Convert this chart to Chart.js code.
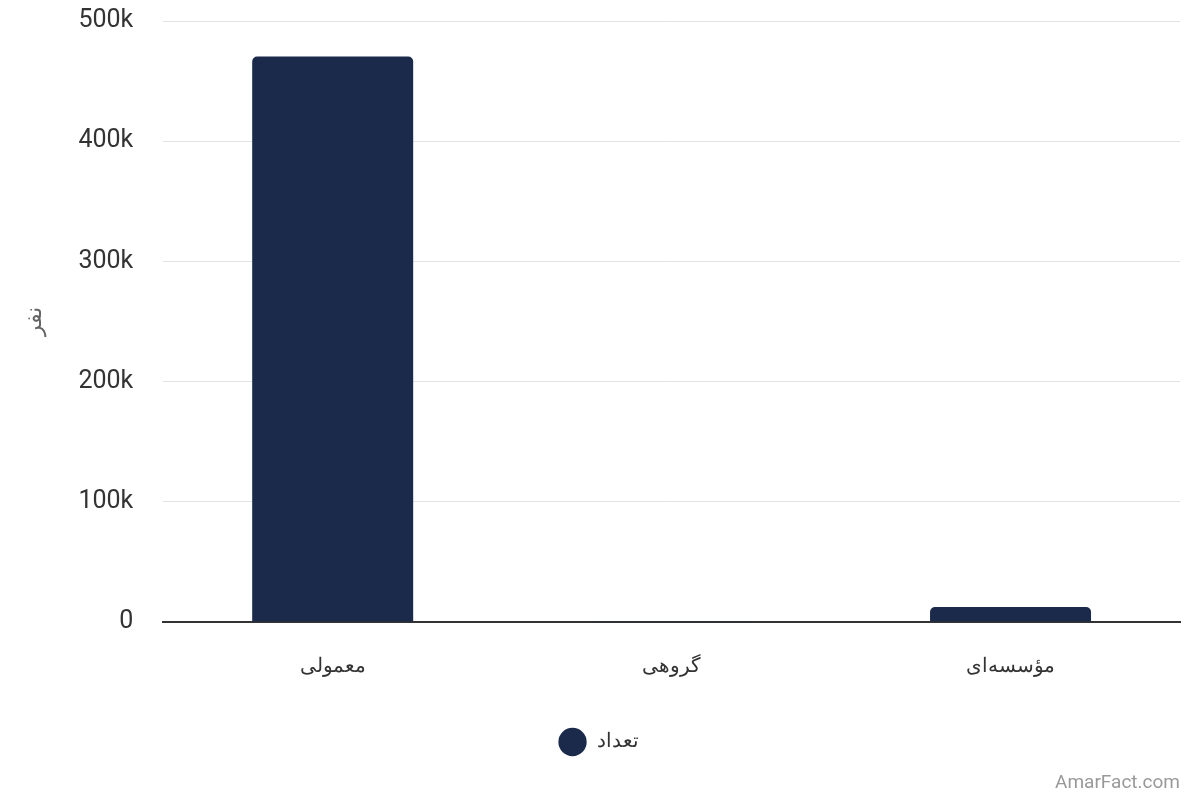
<!DOCTYPE html>
<html>
<head>
<meta charset="utf-8">
<script src="https://cdn.jsdelivr.net/npm/chart.js@4"></script>
<style>
  html, body { margin: 0; padding: 0; background: #fff; overflow: hidden; }
  #wrap { position: relative; width: 1200px; height: 800px; overflow: hidden; }
  #barChart { position: absolute; left: 0; top: -24px; }
  #mark { position: absolute; right: 20px; bottom: 7px; font-family: Roboto, sans-serif; font-size: 19px; color: #999; }
</style>
</head>
<body>
<div id="wrap">
  <canvas id="barChart" width="1200" height="824"></canvas>
  <div id="mark">AmarFact.com</div>
</div>
<script>
// Data
const categories = ['معمولی', 'گروهی', 'مؤسسه‌ای'];
const counts = [470500, 300, 12500];
const seriesLabel = 'تعداد';
const yTitle = 'نفر';

Chart.defaults.font.family = 'Roboto';
Chart.defaults.color = '#333';

const ctx = document.getElementById('barChart').getContext('2d');
new Chart(ctx, {
    type: 'bar',
    data: {
        labels: categories,
        datasets: [{
            label: seriesLabel,
            data: counts,
            backgroundColor: '#1b2a4b',
            borderRadius: 5,
            categoryPercentage: 0.95,
            barPercentage: 0.5
        }]
    },
    options: {
        responsive: false,
        animation: false,
        layout: { padding: { top: 0, right: 20, left: 22, bottom: 38 } },
        plugins: {
            legend: {
                position: 'bottom',
                labels: {
                    usePointStyle: true,
                    pointStyle: 'circle',
                    boxWidth: 24,
                    boxHeight: 24,
                    padding: 28,
                    font: { size: 20 },
                    color: '#333',
                    generateLabels: chart => Chart.defaults.plugins.legend.labels.generateLabels(chart)
                        .map(l => Object.assign(l, { text: ' ' + l.text }))
                }
            },
            tooltip: { enabled: false }
        },
        scales: {
            x: {
                grid: { display: false },
                border: { color: '#333', width: 2 },
                ticks: { font: { size: 20 }, padding: 25, color: '#333' }
            },
            y: {
                min: 0,
                max: 500000,
                ticks: {
                    stepSize: 100000,
                    font: { size: 25 },
                    padding: 30,
                    color: '#333',
                    callback: v => v === 0 ? '0' : (v / 1000) + 'k'
                },
                grid: { color: '#e3e3e3', drawTicks: false },
                border: { display: false },
                title: { display: true, text: yTitle, font: { size: 22 }, color: '#666', padding: { top: 0, bottom: 0 } }
            }
        }
    }
});
</script>
</body>
</html>
